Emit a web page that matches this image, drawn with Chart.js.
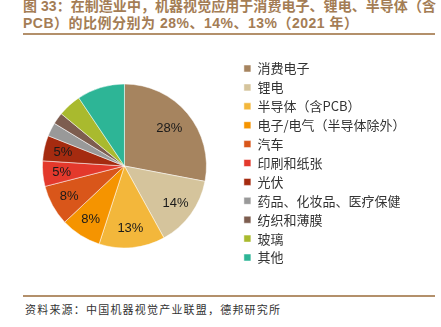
<!DOCTYPE html>
<html><head><meta charset="utf-8">
<script src="https://cdn.jsdelivr.net/npm/chart.js@4/dist/chart.umd.min.js"></script>
<style>
html,body{margin:0;padding:0;background:#fff;}
body{width:441px;height:327px;position:relative;overflow:hidden;}
.t{position:absolute;left:23px;font:bold 14px/17px "Liberation Sans","Noto Sans CJK SC",sans-serif;color:#A47D55;white-space:nowrap;}
.rule{position:absolute;left:23px;width:412px;height:2px;background:#B3906B;}
#foot{position:absolute;left:25px;top:301px;font:11px/16px "Noto Sans CJK SC",sans-serif;color:#333;letter-spacing:1.2px;white-space:nowrap;}
#c{position:absolute;left:0;top:40px;}
</style></head>
<body>
<div class="t" style="top:-2px;letter-spacing:0px;font-feature-settings:'halt' 0;" id="t1">图 33：在制造业中，机器视觉应用于消费电子、锂电、半导体（含</div>
<div class="t" style="top:15px;letter-spacing:0.5px;">PCB）的比例分别为 28%、14%、13%（2021 年）</div>
<div class="rule" style="top:33px"></div>
<canvas id="c" width="441" height="252"></canvas>
<div class="rule" style="top:295px"></div>
<div id="foot">资料来源：中国机器视觉产业联盟，德邦研究所</div>
<script>
// fit first title line to the reference width (413px)
(function(){
  const el = document.getElementById('t1');
  const w = el.getBoundingClientRect().width;
  const n = el.textContent.length;
  el.style.letterSpacing = ((413 - w) / n) + 'px';
})();

const categories = ["消费电子","锂电","半导体（含PCB）","电子/电气（半导体除外）","汽车","印刷和纸张","光伏","药品、化妆品、医疗保健","纺织和薄膜","玻璃","其他"];
const shares = [28, 14, 13, 8, 8, 5, 5, 2.7, 2.3, 4.6, 9.4];
const labelled = [true, true, true, true, true, true, true, false, false, false, false];
const colors = ["#A6845F","#D5C49C","#F3B73B","#F59400","#D9561A","#E3392C","#A52B10","#999999","#7D5D4F","#A9BA2E","#2DB596"];

const pctLabels = {
  id: 'pctLabels',
  afterDatasetsDraw(chart) {
    const ctx = chart.ctx;
    const meta = chart.getDatasetMeta(0);
    ctx.save();
    ctx.font = '13px "Liberation Sans", Arial, sans-serif';
    ctx.fillStyle = '#1a1a1a';
    ctx.textAlign = 'center';
    ctx.textBaseline = 'middle';
    meta.data.forEach((arc, i) => {
      if (!labelled[i]) return;
      const v = shares[i];
      const p = arc.getProps(['x','y','startAngle','endAngle','outerRadius'], true);
      const mid = (p.startAngle + p.endAngle) / 2;
      const r = p.outerRadius * (v > 20 ? 0.71 : 0.77);
      ctx.fillText(Math.round(v) + '%', p.x + Math.cos(mid) * r, p.y + Math.sin(mid) * r);
    });
    ctx.restore();
  }
};

const legendShift = {
  id: 'legendShift',
  afterLayout(chart) {
    if (chart.legend) { chart.legend.top -= 3; chart.legend.bottom -= 3; }
  }
};

new Chart(document.getElementById('c'), {
  type: 'pie',
  data: {
    labels: categories,
    datasets: [{
      data: shares,
      backgroundColor: colors,
      borderColor: '#ffffff',
      borderWidth: 0.5,
      radius: 82
    }]
  },
  options: {
    responsive: false,
    devicePixelRatio: 1,
    animation: false,
    layout: { padding: { left: 10.9, right: 25.5, top: 0, bottom: 0 } },
    plugins: {
      legend: {
        position: 'right',
        align: 'center',
        labels: {
          boxWidth: 7,
          boxHeight: 7,
          padding: 5.9,
          color: '#333',
          font: { size: 13, family: '"Noto Sans CJK SC", sans-serif' }
        }
      },
      tooltip: { enabled: false }
    }
  },
  plugins: [pctLabels, legendShift]
});
</script>
</body></html>
